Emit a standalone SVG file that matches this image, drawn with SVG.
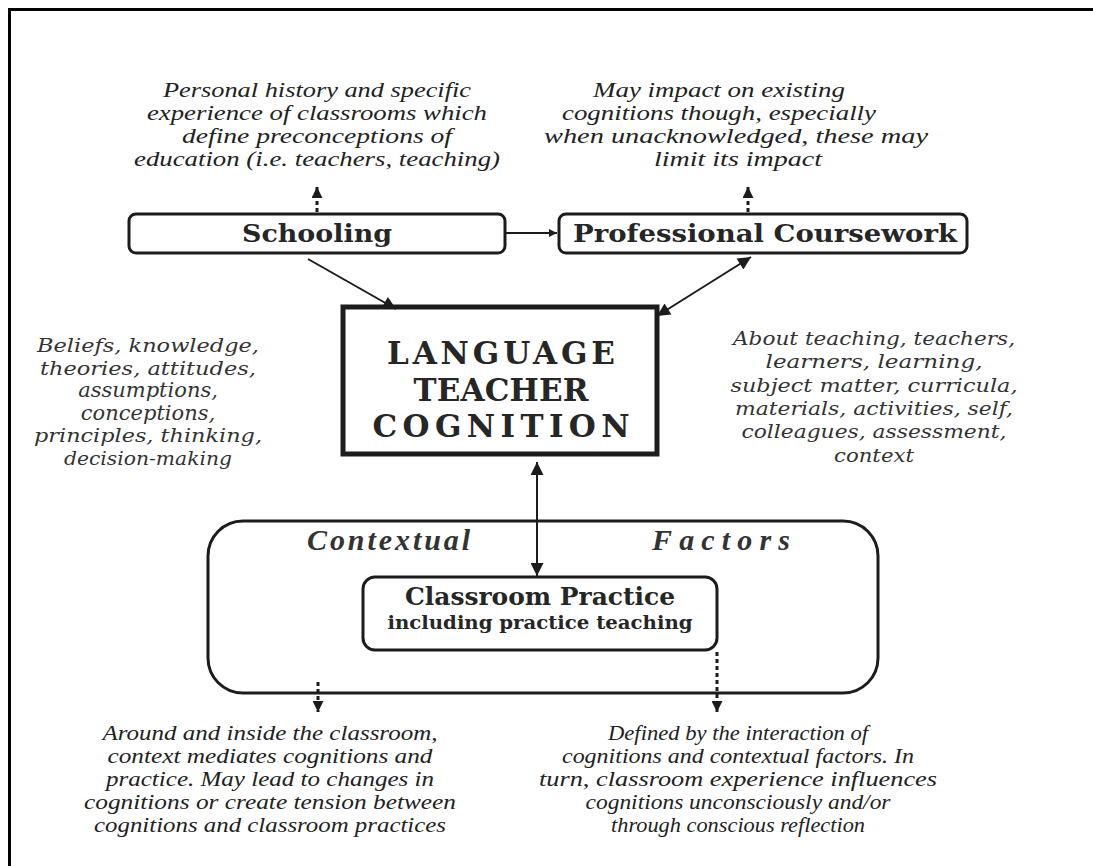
<svg xmlns="http://www.w3.org/2000/svg" width="1093" height="866" viewBox="0 0 1093 866">
<style>
.frame{stroke:#000;stroke-width:3;fill:none}
.box{fill:#fff;stroke:#1c1c1c;stroke-width:3}
.main{fill:#fff;stroke:#1c1c1c;stroke-width:5}
.lbl{font-family:"DejaVu Serif","Liberation Serif",serif;font-weight:bold;fill:#262626;text-anchor:middle}
.note{font-family:"Liberation Serif",serif;font-style:italic;fill:#222;text-anchor:middle;font-size:21px}
.cal{font-family:"DejaVu Serif","Liberation Serif",serif;font-style:italic;fill:#333;text-anchor:middle;font-size:19px}
.calw{font-size:21px}
.ctx{font-family:"Liberation Serif",serif;font-style:italic;font-weight:bold;fill:#333;font-size:30px}
.conn{stroke:#1c1c1c;stroke-width:2;fill:none}
.dot{stroke:#1c1c1c;stroke-width:3;stroke-dasharray:4 3;fill:none}
</style>
<defs>
<marker id="ah" viewBox="0 0 10 10" refX="10" refY="5" markerWidth="16" markerHeight="13" markerUnits="userSpaceOnUse" orient="auto-start-reverse"><path d="M0,0 L10,5 L0,10 z" fill="#1c1c1c"/></marker>
<marker id="ahs" viewBox="0 0 10 10" refX="10" refY="5" markerWidth="10" markerHeight="8" markerUnits="userSpaceOnUse" orient="auto"><path d="M0,0 L10,5 L0,10 z" fill="#1c1c1c"/></marker>
<marker id="ahd" viewBox="0 0 10 10" refX="10" refY="5" markerWidth="12" markerHeight="11" markerUnits="userSpaceOnUse" orient="auto"><path d="M0,0 L10,5 L0,10 z" fill="#1c1c1c"/></marker>
</defs>
<rect width="1093" height="866" fill="#fff"/>
<path class="frame" d="M9.5,866 V9.5 H1093"/>

<g id="note-schooling">
<text class="note" x="317" y="97" textLength="308" lengthAdjust="spacingAndGlyphs">Personal history and specific</text>
<text class="note" x="317" y="120" textLength="340" lengthAdjust="spacingAndGlyphs">experience of classrooms which</text>
<text class="note" x="317" y="143" textLength="270" lengthAdjust="spacingAndGlyphs">define preconceptions of</text>
<text class="note" x="317" y="166" textLength="366" lengthAdjust="spacingAndGlyphs">education (i.e. teachers, teaching)</text>
</g>
<g id="note-coursework">
<text class="note" x="719" y="97" textLength="252" lengthAdjust="spacingAndGlyphs">May impact on existing</text>
<text class="note" x="719" y="120" textLength="314" lengthAdjust="spacingAndGlyphs">cognitions though, especially</text>
<text class="note" x="736" y="143" textLength="384" lengthAdjust="spacingAndGlyphs">when unacknowledged, these may</text>
<text class="note" x="738" y="166" textLength="168" lengthAdjust="spacingAndGlyphs">limit its impact</text>
</g>

<g id="schooling">
<rect class="box" x="129" y="214" width="376" height="39" rx="7"/>
<text class="lbl" x="317" y="242" font-size="24" textLength="150" lengthAdjust="spacingAndGlyphs">Schooling</text>
</g>
<g id="coursework">
<rect class="box" x="559" y="214" width="408" height="39" rx="7"/>
<text class="lbl" x="765" y="242" font-size="24" textLength="384" lengthAdjust="spacingAndGlyphs">Professional Coursework</text>
</g>

<g id="ltc">
<rect class="main" x="343" y="307" width="314" height="147"/>
<text class="lbl" x="501" y="364" font-size="31" textLength="228">LANGUAGE</text>
<text class="lbl" x="501" y="401" font-size="31" textLength="175">TEACHER</text>
<text class="lbl" x="501" y="437" font-size="31" textLength="257">COGNITION</text>
</g>

<g id="note-beliefs">
<text class="cal" x="148" y="352" textLength="222" lengthAdjust="spacingAndGlyphs">Beliefs, knowledge,</text>
<text class="cal" x="148" y="375" textLength="216" lengthAdjust="spacingAndGlyphs">theories, attitudes,</text>
<text class="cal calw" x="148" y="397">assumptions,</text>
<text class="cal calw" x="148" y="420">conceptions,</text>
<text class="cal" x="148" y="442" textLength="228" lengthAdjust="spacingAndGlyphs">principles, thinking,</text>
<text class="cal" x="148" y="465" textLength="168" lengthAdjust="spacingAndGlyphs">decision-making</text>
</g>
<g id="note-about">
<text class="cal" x="874" y="345" textLength="282" lengthAdjust="spacingAndGlyphs">About teaching, teachers,</text>
<text class="cal" x="874" y="368" textLength="217" lengthAdjust="spacingAndGlyphs">learners,  learning,</text>
<text class="cal" x="874" y="392" textLength="287" lengthAdjust="spacingAndGlyphs">subject matter, curricula,</text>
<text class="cal" x="874" y="415" textLength="278" lengthAdjust="spacingAndGlyphs">materials, activities, self,</text>
<text class="cal" x="874" y="438" textLength="265" lengthAdjust="spacingAndGlyphs">colleagues, assessment,</text>
<text class="cal" x="874" y="462" textLength="80" lengthAdjust="spacingAndGlyphs">context</text>
</g>

<g id="contextual-factors">
<rect class="box" x="208" y="521" width="670" height="172" rx="35" fill="none"/>
<text class="ctx" x="307" y="550" textLength="163">Contextual</text>
<text class="ctx" x="652" y="550" textLength="138">Factors</text>
</g>
<g id="classroom-practice">
<rect class="box" x="363" y="577" width="354" height="73" rx="12"/>
<text class="lbl" x="540" y="605" font-size="24" textLength="270" lengthAdjust="spacingAndGlyphs">Classroom Practice</text>
<text class="lbl" x="540" y="629" font-size="18" textLength="305" lengthAdjust="spacingAndGlyphs">including practice teaching</text>
</g>

<g id="note-context">
<text class="note" x="270" y="740" textLength="335" lengthAdjust="spacingAndGlyphs">Around and inside the classroom,</text>
<text class="note" x="270" y="763" textLength="325" lengthAdjust="spacingAndGlyphs">context mediates cognitions and</text>
<text class="note" x="270" y="786" textLength="328" lengthAdjust="spacingAndGlyphs">practice. May lead to changes in</text>
<text class="note" x="270" y="809" textLength="372" lengthAdjust="spacingAndGlyphs">cognitions or create tension between</text>
<text class="note" x="270" y="832" textLength="352" lengthAdjust="spacingAndGlyphs">cognitions and classroom practices</text>
</g>
<g id="note-practice">
<text class="note" x="738" y="740" textLength="260" lengthAdjust="spacingAndGlyphs">Defined by the interaction of</text>
<text class="note" x="738" y="763" textLength="352" lengthAdjust="spacingAndGlyphs">cognitions and contextual factors. In</text>
<text class="note" x="738" y="786" textLength="398" lengthAdjust="spacingAndGlyphs">turn, classroom experience influences</text>
<text class="note" x="738" y="809" textLength="305" lengthAdjust="spacingAndGlyphs">cognitions unconsciously and/or</text>
<text class="note" x="738" y="832" textLength="254" lengthAdjust="spacingAndGlyphs">through conscious reflection</text>
</g>

<g id="connectors">
<line class="dot" x1="317" y1="212" x2="317" y2="187" marker-end="url(#ahd)"/>
<line class="dot" x1="748" y1="212" x2="748" y2="187" marker-end="url(#ahd)"/>
<line class="conn" x1="505" y1="233" x2="557" y2="233" marker-end="url(#ahs)"/>
<line class="conn" x1="308" y1="259" x2="396" y2="309" marker-end="url(#ah)"/>
<line class="conn" x1="657" y1="316" x2="751" y2="257" marker-start="url(#ah)" marker-end="url(#ah)"/>
<line class="conn" x1="537" y1="462" x2="537" y2="576" marker-start="url(#ah)" marker-end="url(#ah)"/>
<line class="dot" x1="318" y1="682" x2="318" y2="712" marker-end="url(#ahd)"/>
<line class="dot" x1="717" y1="652" x2="717" y2="712" marker-end="url(#ahd)"/>
</g>
</svg>
